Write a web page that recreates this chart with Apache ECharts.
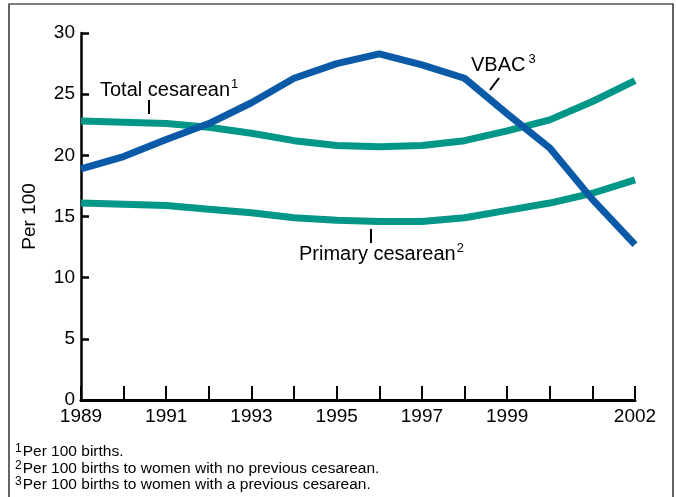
<!DOCTYPE html>
<html>
<head>
<meta charset="utf-8">
<script src="https://cdn.jsdelivr.net/npm/echarts@6/dist/echarts.min.js"></script>
<style>
  html, body { margin: 0; padding: 0; background: #fff; }
  #chart { width: 676px; height: 497px; }
</style>
</head>
<body>
<div id="chart"></div>
<script>
  // years on the x axis, and which of them get a label
  var years = ['1989','1990','1991','1992','1993','1994','1995','1996','1997','1998','1999','2000','2001','2002'];
  var labeledYears = ['1989','1991','1993','1995','1997','1999','2002'];

  // rates per 100
  var vbac = [18.9, 19.9, 21.3, 22.6, 24.3, 26.3, 27.5, 28.3, 27.4, 26.3, 23.4, 20.6, 16.4, 12.7];
  var totalCesarean = [22.8, 22.7, 22.6, 22.3, 21.8, 21.2, 20.8, 20.7, 20.8, 21.2, 22.0, 22.9, 24.4, 26.1];
  var primaryCesarean = [16.1, 16.0, 15.9, 15.6, 15.3, 14.9, 14.7, 14.6, 14.6, 14.9, 15.5, 16.1, 16.9, 18.0];

  var footnotes = [
    ['1', 'Per 100 births.'],
    ['2', 'Per 100 births to women with no previous cesarean.'],
    ['3', 'Per 100 births to women with a previous cesarean.']
  ];

  var FONT = 'Liberation Sans, Arial, sans-serif';
  var BLUE = '#0a5aa8';
  var TEAL = '#009688';

  var chart = echarts.init(document.getElementById('chart'));

  function supText(pad) {
    return {
      t: { fontFamily: FONT, fontSize: 20, color: '#000' },
      s: { fontFamily: FONT, fontSize: 13, color: '#000', verticalAlign: 'top', padding: [0, 0, 11, pad] }
    };
  }

  var graphics = [
    {
      type: 'rect',
      shape: { x: 9, y: 4, width: 664, height: 500 },
      style: { fill: 'none', stroke: '#000', lineWidth: 1.2 },
      silent: true
    },
    // Total cesarean label + leader
    { type: 'text', left: 100, top: 78, style: { text: '{t|Total cesarean}{s|1}', rich: supText(1) } },
    { type: 'line', shape: { x1: 149, y1: 100, x2: 149, y2: 114 }, style: { stroke: '#000', lineWidth: 2 } },
    // VBAC label + leader
    { type: 'text', left: 471, top: 53, style: { text: '{t|VBAC}{s|3}', rich: supText(3) } },
    { type: 'line', shape: { x1: 499, y1: 78, x2: 490, y2: 90 }, style: { stroke: '#000', lineWidth: 2 } },
    // Primary cesarean label + leader
    { type: 'text', left: 299, top: 242, style: { text: '{t|Primary cesarean}{s|2}', rich: supText(1) } },
    { type: 'line', shape: { x1: 371, y1: 229, x2: 371, y2: 243 }, style: { stroke: '#000', lineWidth: 2 } }
  ];

  footnotes.forEach(function (f, i) {
    graphics.push({
      type: 'text', left: 15, top: 443 + i * 16.5,
      style: {
        text: '{s|' + f[0] + '}{t|' + f[1] + '}',
        rich: {
          s: { fontFamily: FONT, fontSize: 12, color: '#000', verticalAlign: 'top', padding: [0, 1, 6, 0] },
          t: { fontFamily: FONT, fontSize: 15.5, color: '#000' }
        }
      }
    });
  });

  var option = {
    animation: false,
    backgroundColor: '#fff',
    grid: { left: 81, right: 41, top: 33, bottom: 97 },
    xAxis: {
      type: 'category',
      data: years,
      boundaryGap: false,
      axisLine: { lineStyle: { color: '#000', width: 3 } },
      axisTick: { inside: true, length: 14, interval: 0, lineStyle: { color: '#000', width: 2 } },
      axisLabel: {
        interval: function (index, value) { return labeledYears.indexOf(value) >= 0; },
        color: '#000', fontFamily: FONT, fontSize: 19, margin: 7
      },
      splitLine: { show: false }
    },
    yAxis: {
      type: 'value',
      min: 0, max: 30, interval: 5,
      name: 'Per 100',
      nameLocation: 'middle',
      nameGap: 42,
      nameTextStyle: { color: '#000', fontFamily: FONT, fontSize: 19 },
      axisLine: { show: true, lineStyle: { color: '#000', width: 2.5 } },
      axisTick: { show: true, inside: true, length: 8, lineStyle: { color: '#000', width: 2.5 } },
      axisLabel: { color: '#000', fontFamily: FONT, fontSize: 19, margin: 6 },
      splitLine: { show: false }
    },
    series: [
      {
        name: 'Total cesarean', type: 'line', data: totalCesarean,
        symbol: 'none', lineStyle: { color: TEAL, width: 7 }
      },
      {
        name: 'Primary cesarean', type: 'line', data: primaryCesarean,
        symbol: 'none', lineStyle: { color: TEAL, width: 7 }
      },
      {
        name: 'VBAC', type: 'line', data: vbac,
        symbol: 'none', lineStyle: { color: BLUE, width: 7 }, z: 3
      }
    ],
    graphic: graphics
  };

  chart.setOption(option);
</script>
</body>
</html>
